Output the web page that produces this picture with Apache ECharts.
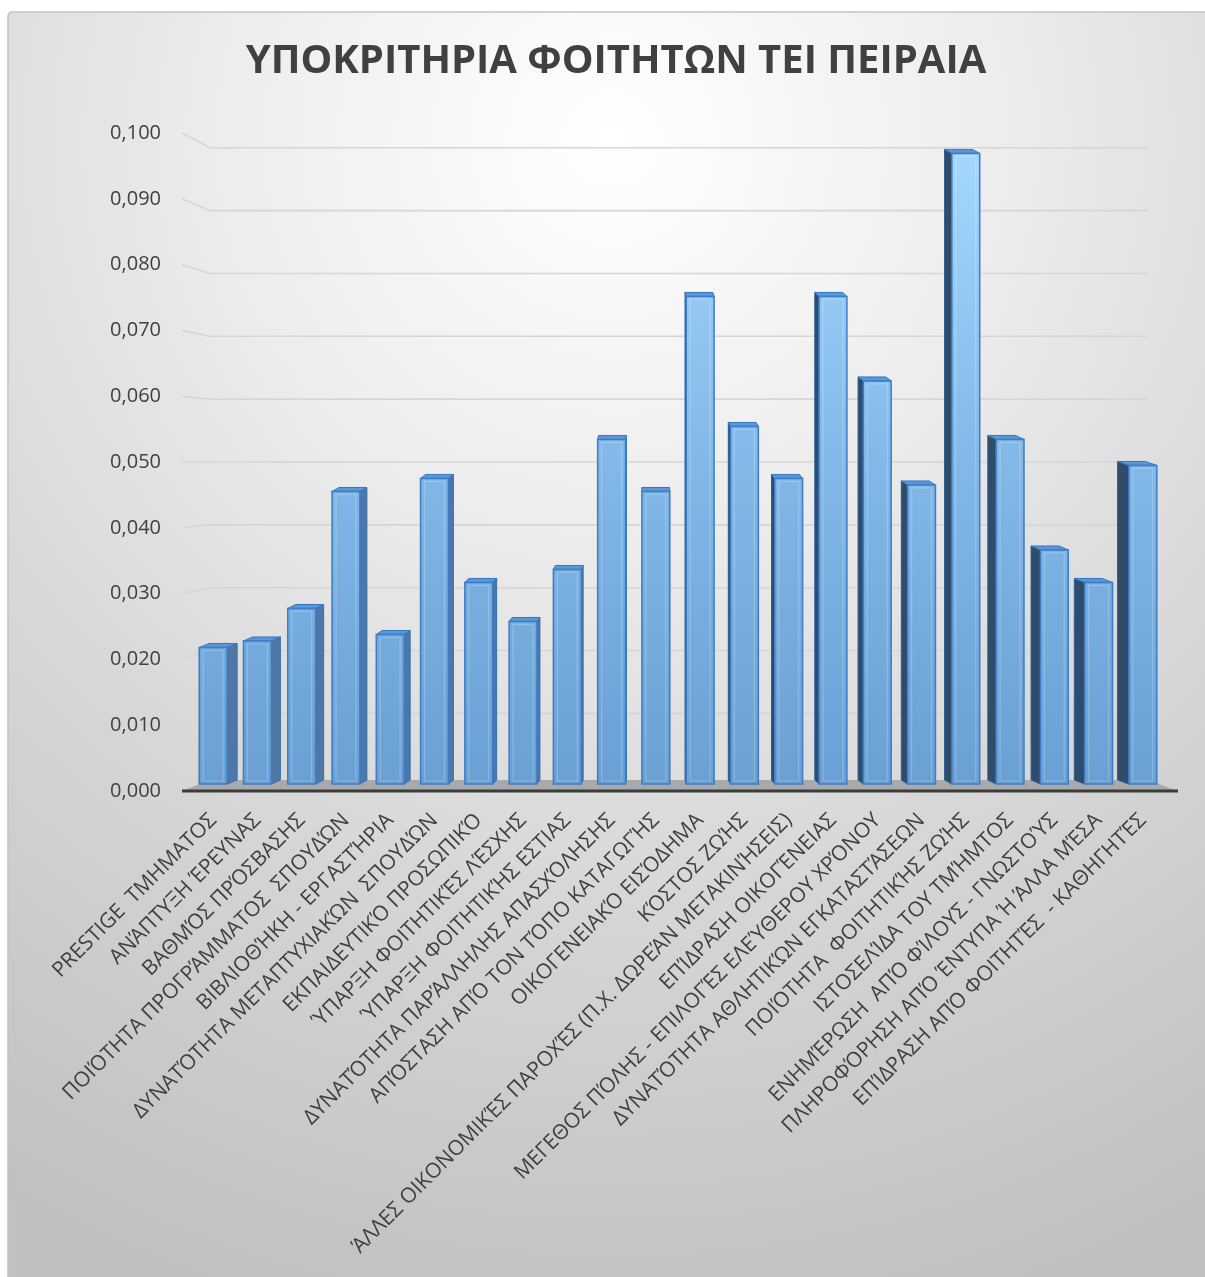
<!DOCTYPE html>
<html>
<head>
<meta charset="utf-8">
<script src="https://cdn.jsdelivr.net/npm/echarts@6/dist/echarts.min.js"></script>
<style>
html,body{margin:0;padding:0;background:#fff;}
#chart{width:1205px;height:1277px;}
</style>
</head>
<body>
<div id="chart"></div>
<script>
var title = 'ΥΠΟΚΡΙΤΗΡΙΑ ΦΟΙΤΗΤΩΝ ΤΕΙ ΠΕΙΡΑΙΑ';
var categories = [
  'PRESTIGE  ΤΜΗΜΑΤΟΣ',
  'ΑΝΆΠΤΥΞΗ ΈΡΕΥΝΑΣ',
  'ΒΑΘΜΌΣ ΠΡΌΣΒΑΣΗΣ',
  'ΠΟΙΌΤΗΤΑ ΠΡΟΓΡΆΜΜΑΤΟΣ  ΣΠΟΥΔΏΝ',
  'ΒΙΒΛΙΟΘΉΚΗ - ΕΡΓΑΣΤΉΡΙΑ',
  'ΔΥΝΑΤΌΤΗΤΑ ΜΕΤΑΠΤΥΧΙΑΚΏΝ  ΣΠΟΥΔΏΝ',
  'ΕΚΠΑΙΔΕΥΤΙΚΌ ΠΡΟΣΩΠΙΚΌ',
  'ΎΠΑΡΞΗ ΦΟΙΤΗΤΙΚΈΣ ΛΈΣΧΗΣ',
  'ΎΠΑΡΞΗ ΦΟΙΤΗΤΙΚΉΣ ΕΣΤΙΑΣ',
  'ΔΥΝΑΤΌΤΗΤΑ ΠΑΡΆΛΛΗΛΗΣ ΑΠΑΣΧΌΛΗΣΗΣ',
  'ΑΠΌΣΤΑΣΗ ΑΠΌ ΤΟΝ ΤΌΠΟ ΚΑΤΑΓΩΓΉΣ',
  'ΟΙΚΟΓΕΝΕΙΑΚΌ ΕΙΣΌΔΗΜΑ',
  'ΚΌΣΤΟΣ ΖΩΉΣ',
  'ΆΛΛΕΣ ΟΙΚΟΝΟΜΙΚΈΣ ΠΑΡΟΧΈΣ (Π.Χ. ΔΩΡΕΆΝ ΜΕΤΑΚΙΝΉΣΕΙΣ)',
  'ΕΠΊΔΡΑΣΗ ΟΙΚΟΓΈΝΕΙΑΣ',
  'ΜΕΓΕΘΟΣ ΠΌΛΗΣ - ΕΠΙΛΟΓΈΣ ΕΛΕΎΘΕΡΟΥ ΧΡΌΝΟΥ',
  'ΔΥΝΑΤΌΤΗΤΑ ΑΘΛΗΤΙΚΏΝ ΕΓΚΑΤΑΣΤΆΣΕΩΝ',
  'ΠΟΙΌΤΗΤΑ  ΦΟΙΤΗΤΙΚΉΣ ΖΩΉΣ',
  'ΙΣΤΟΣΕΛΊΔΑ ΤΟΥ ΤΜΉΜΤΟΣ',
  'ΕΝΗΜΈΡΩΣΗ  ΑΠΌ ΦΊΛΟΥΣ - ΓΝΩΣΤΟΎΣ',
  'ΠΛΗΡΟΦΌΡΗΣΗ ΑΠΌ ΈΝΤΥΠΑ Ή ΆΛΛΑ ΜΈΣΑ',
  'ΕΠΊΔΡΑΣΗ ΑΠΌ ΦΟΙΤΗΤΈΣ  - ΚΑΘΗΓΗΤΈΣ'
];
var values = [0.021, 0.022, 0.027, 0.045, 0.023, 0.047, 0.031, 0.025, 0.033, 0.053, 0.045,
              0.075, 0.055, 0.047, 0.075, 0.062, 0.046, 0.097, 0.053, 0.036, 0.031, 0.049];
var yTicks = [0, 0.01, 0.02, 0.03, 0.04, 0.05, 0.06, 0.07, 0.08, 0.09, 0.1];

var chart = echarts.init(document.getElementById('chart'));

var frontGrad = new echarts.graphic.LinearGradient(0, 140, 0, 790, [
  {offset: 0, color: '#a6d8fc'},
  {offset: 0.5, color: '#82b7e8'},
  {offset: 1, color: '#6a9fd4'}
], true);

function renderGrid(params, api) {
  var cs = params.coordSys;
  var v = api.value(1);
  var fy = api.coord([0, v])[1];
  var my = api.coord([0, 0.05])[1];
  var by = my + (fy - my) * 0.955;
  var L = cs.x, R = cs.x + cs.width;
  if (v === 0) {
    var by0 = fy - 11;
    return {
      type: 'group',
      children: [
        {type: 'polygon', shape: {points: [[L - 9, fy], [L + 19, by0], [R - 17, by0], [R + 13, fy]]},
         style: {fill: '#a9a9a9'}},
        {type: 'line', shape: {x1: L - 9, y1: fy, x2: R + 13, y2: fy},
         style: {stroke: '#3c3c3c', lineWidth: 3}}
      ]
    };
  }
  return {
    type: 'polyline',
    shape: {points: [[L - 9, fy], [L + 19, by], [R - 17, by]]},
    style: {stroke: '#d6d6d6', lineWidth: 1.6, fill: null}
  };
}

function renderBar(params, api) {
  var idx = api.value(0), v = api.value(1);
  var top = api.coord([idx, v]);
  var base = api.coord([idx, 0]);
  var cx = top[0];
  var yB = base[1] - 7;
  var yT = yB - (base[1] - top[1]) * 0.988;
  var w = api.size([1, 0])[0] * 0.63;
  var x0 = cx - w / 2, x1 = cx + w / 2;
  var off = (650 - cx) * 0.023;
  var dy = 4;
  var children = [];
  if (off > 0.5) {
    children.push({type: 'polygon', shape: {points: [[x1, yB], [x1, yT], [x1 + off, yT - dy], [x1 + off, yB - dy]]},
      style: {fill: '#4f77a6', stroke: '#3170b6', lineWidth: 1}});
  } else if (off < -0.5) {
    children.push({type: 'polygon', shape: {points: [[x0, yB], [x0, yT], [x0 + off, yT - dy], [x0 + off, yB - dy]]},
      style: {fill: '#2f4c6b', stroke: '#2a5d96', lineWidth: 1}});
  }
  children.push({type: 'polygon', shape: {points: [[x0, yT], [x1, yT], [x1 + off, yT - dy], [x0 + off, yT - dy]]},
    style: {fill: '#5a97d8', stroke: '#3577c0', lineWidth: 1}});
  children.push({type: 'rect', shape: {x: x0, y: yT, width: w, height: yB - yT},
    style: {fill: frontGrad, stroke: '#3b7dc6', lineWidth: 1.5}});
  children.push({type: 'rect', shape: {x: x0 + 4, y: yT + 3, width: w - 8, height: Math.max(yB - yT - 6, 0)},
    style: {fill: null, stroke: 'rgba(255,255,255,0.22)', lineWidth: 1.2}});
  return {type: 'group', children: children};
}

var option = {
  backgroundColor: '#ffffff',
  animation: false,
  graphic: [
    {type: 'rect', z: -10, shape: {x: 8, y: 12, width: 1210, height: 1280, r: 4},
     style: {
       fill: new echarts.graphic.RadialGradient(0.5, 0.1, 1.0, [
         {offset: 0, color: '#ffffff'},
         {offset: 0.3, color: '#eeeeee'},
         {offset: 0.65, color: '#d5d5d5'},
         {offset: 1, color: '#c0c0c0'}
       ]),
       stroke: '#c4c4c4', lineWidth: 1.5
     }},
    {type: 'text', z: 10, x: 616, y: 62,
     style: {text: title, textAlign: 'center', textVerticalAlign: 'middle',
             font: 'bold 40px "Open Sans"', fill: '#404040'}}
  ],
  grid: {left: 191, right: 40, top: 133, bottom: 486, containLabel: false},
  xAxis: {
    type: 'category',
    data: categories,
    axisLine: {show: false},
    axisTick: {show: false},
    axisLabel: {
      interval: 0, rotate: 45, margin: 26,
      fontFamily: 'Open Sans', fontSize: 21, color: '#404040'
    },
    splitLine: {show: false}
  },
  yAxis: {
    type: 'value',
    min: 0, max: 0.1, interval: 0.01,
    axisLine: {show: false},
    axisTick: {show: false},
    splitLine: {show: false},
    axisLabel: {
      margin: 30,
      fontFamily: 'Open Sans', fontSize: 20, color: '#404040',
      formatter: function (v) { return v.toFixed(3).replace('.', ','); }
    }
  },
  series: [
    {
      type: 'custom', name: 'grid', z: 1, silent: true,
      renderItem: renderGrid,
      encode: {x: 0, y: 1},
      data: yTicks.map(function (t) { return [0, t]; })
    },
    {
      type: 'custom', name: 'values', z: 3,
      renderItem: renderBar,
      encode: {x: 0, y: 1},
      data: values.map(function (v, i) { return [i, v]; })
    }
  ]
};
chart.setOption(option);
</script>
</body>
</html>
